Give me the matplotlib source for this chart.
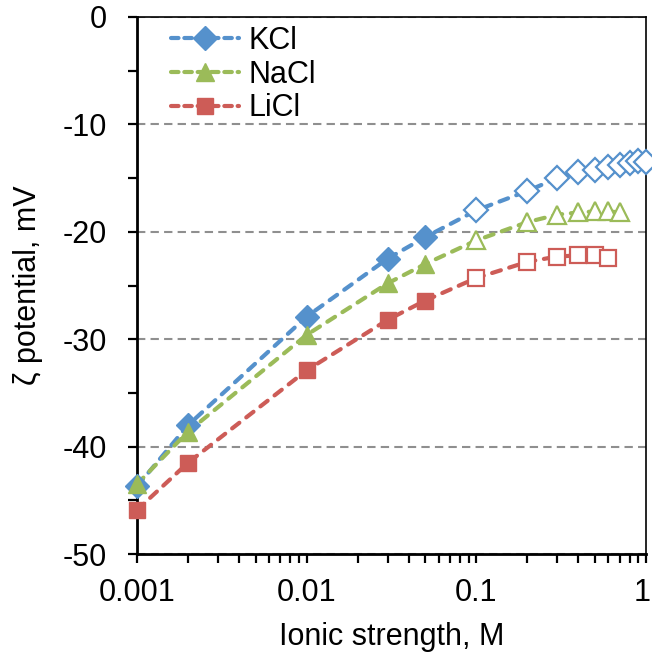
import numpy as np
import matplotlib.pyplot as plt
import matplotlib.transforms as mtransforms
from matplotlib.ticker import LogLocator, FixedLocator, NullFormatter

plt.rcParams['font.family'] = ['Liberation Sans', 'DejaVu Sans']
plt.rcParams['axes.unicode_minus'] = False

conc = [0.001, 0.002, 0.01, 0.03, 0.05, 0.1, 0.2, 0.3, 0.4, 0.5, 0.6, 0.7, 0.8, 0.9, 1.0]
kcl = [-43.7, -38.0, -27.9, -22.5, -20.5, -18.0, -16.2, -15.0, -14.4, -14.2, -14.0,
       -13.8, -13.6, -13.4, -13.5]
nacl = [-43.5, -38.6, -29.6, -24.8, -23.0, -20.8, -19.1, -18.4, -18.2, -18.1, -18.1, -18.2]
licl = [-45.9, -41.5, -32.9, -28.2, -26.4, -24.3, -22.8, -22.3, -22.2, -22.2, -22.4]
n_filled = 5

series = [
    ('KCl', kcl, '#5591CC', 'D', 12),
    ('NaCl', nacl, '#9BBB59', '^', 12.5),
    ('LiCl', licl, '#CD5C57', 's', 11.5),
]

fig = plt.figure(figsize=(6.52, 6.59), dpi=100)
ax = fig.add_axes([137/652, 1 - 554/659, (646 - 137)/652, (554 - 17)/659])

lw = 3.0
dash = (2.2, 2.1)
for name, vals, c, m, ms in series:
    x = conc[:len(vals)]
    ax.plot(x, vals, c=c, lw=lw, dashes=dash, dash_capstyle='round', zorder=2)
    ax.plot(x[:n_filled], vals[:n_filled], ls='none', marker=m, ms=ms, mfc=c, mec=c,
            zorder=3, clip_on=False)
    ax.plot(x[n_filled:], vals[n_filled:], ls='none', marker=m, ms=ms, mfc='white', mec=c,
            mew=1.6, zorder=3, clip_on=False)
    ax.plot([], [], c=c, lw=lw, dashes=(1.8, 1.4), dash_capstyle='round', marker=m, ms=ms,
            mfc=c, mec=c, label=name)

ax.set_xscale('log')
ax.set_xlim(0.001, 1)
ax.set_ylim(-50, 0)
ax.set_xticks([0.001, 0.01, 0.1, 1])
ax.set_xticklabels(['0.001', '0.01', '0.1', '1'])
ax.xaxis.set_minor_locator(LogLocator(base=10, subs=np.arange(2, 10)))
ax.xaxis.set_minor_formatter(NullFormatter())
ax.set_yticks(np.arange(-50, 1, 10))
ax.yaxis.set_minor_locator(FixedLocator(np.arange(-45, 0, 10)))

ax.grid(axis='y', which='major', ls=(0, (4, 2.5)), c='#8F8F8F', lw=1.5)
ax.tick_params(axis='both', which='both', direction='out', length=6.5, width=1.6,
               labelsize=22)
ax.tick_params(axis='x', which='major', pad=11)
ax.tick_params(axis='y', which='major', pad=15)
for s in ['left', 'bottom']:
    ax.spines[s].set_linewidth(2)
for s in ['top', 'right']:
    ax.spines[s].set_linewidth(1.2)

# keep the "1" label inside the canvas
last = ax.get_xticklabels()[-1]
last.set_transform(last.get_transform() +
                   mtransforms.ScaledTranslation(-4/100, 0, fig.dpi_scale_trans))

ax.set_xlabel('Ionic strength, M', fontsize=22, labelpad=10)
ax.set_ylabel('ζ potential, mV', fontsize=22, labelpad=14)

ax.legend(loc='upper left', bbox_to_anchor=(0.048, 1.0), frameon=False, fontsize=22,
          handlelength=2.25, handletextpad=0.3, labelspacing=0.12, borderaxespad=0.1,
          borderpad=0.2)

fig.savefig('out.png', dpi=100)
